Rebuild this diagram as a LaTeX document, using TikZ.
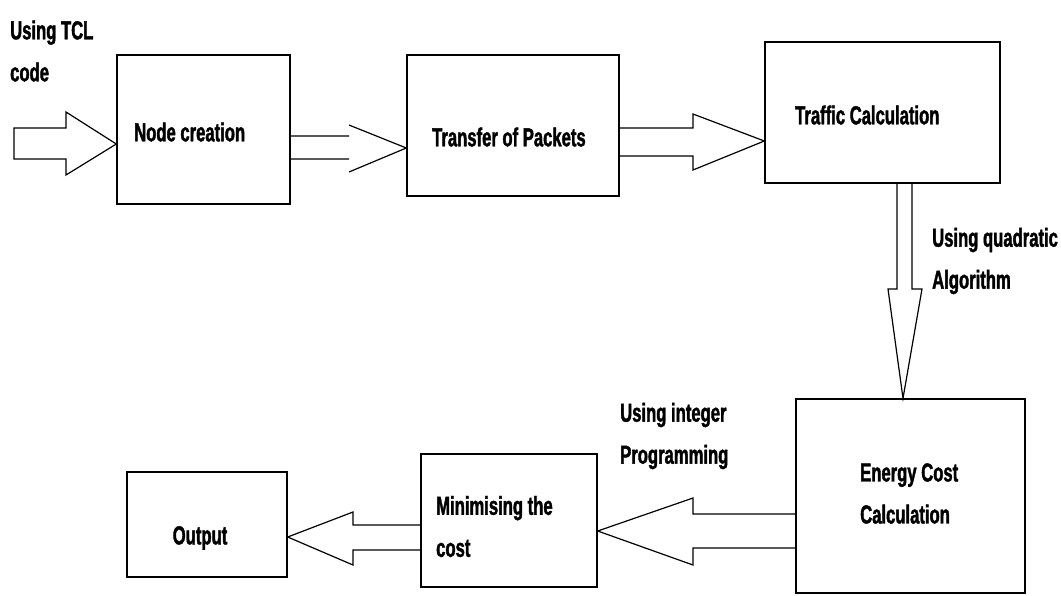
\documentclass[tikz,border=0pt]{standalone}
\usepackage{fontspec}
\newfontfamily\lblfont{Liberation Sans}[FakeStretch=0.64, FakeBold=1.5]
\usetikzlibrary{calc}
\begin{document}
\begin{tikzpicture}[x=1pt,y=-1pt,
  box/.style={draw, line width=1.4pt, inner sep=0pt},
  barrow/.style={draw, line width=1.2pt, line join=miter},
  lbl/.style={inner sep=0pt, font=\lblfont\bfseries\fontsize{26}{42}\selectfont,
              align=left, anchor=west}]
\useasboundingbox (0,0) rectangle (1061,595);

% process boxes
\node[box, minimum width=173pt, minimum height=149pt] (nc)  at (203.5,129.5) {};
\node[box, minimum width=212pt, minimum height=141pt] (tp)  at (513,125.5) {};
\node[box, minimum width=235pt, minimum height=141pt] (tc)  at (882.5,112.5) {};
\node[box, minimum width=229pt, minimum height=194pt] (ec)  at (910.5,496) {};
\node[box, minimum width=176pt, minimum height=133pt] (mc)  at (509,520.5) {};
\node[box, minimum width=160pt, minimum height=105pt] (out) at (207,524.5) {};

% box texts
\node[lbl] (t-nc) at (134,132) {Node creation};
\node[lbl] (t-tp) at (432,137) {Transfer of Packets};
\node[lbl] (t-tc) at (795,115) {Traffic Calculation};
\node[lbl] (t-ec) at (860,493.5) {Energy Cost\\Calculation};
\node[lbl] (t-mc) at (436,526.5) {Minimising the\\cost};
\node[lbl, anchor=center] (t-out) at (200,538) {Output};

% arrow labels
\node[lbl] (t-tcl) at (10,51) {Using TCL\\code};
\node[lbl] (t-qa)  at (932,261) {Using quadratic\\Algorithm};
\node[lbl] (t-ip)  at (620,436) {Using integer\\Programming};

% input arrow
\coordinate (src) at (14,143.5);
\draw[barrow] ($(src)+(0,-15.5)$) -- (66,128) -- (66,112) -- (nc.west |- 0,144)
  -- (66,175) -- (66,159) -- ($(src)+(0,15.5)$) -- cycle;

% node creation -> transfer of packets
\draw[barrow] (nc.east |- 0,136) -- (349,136) (nc.east |- 0,159) -- (349,159)
  (349,125) -- (tp.west |- 0,148) -- (349,172);

% transfer of packets -> traffic calculation
\draw[barrow] (tp.east |- 0,128) -- (693,128) -- (693,114) -- (tc.west |- 0,141)
  -- (693,170) -- (693,156) -- (tp.east |- 0,156);

% traffic calculation -> energy cost calculation
\draw[barrow] (tc.south -| 897,0) -- (897,289) -- (888,289) -- (ec.north -| 903,0)
  -- (922,289) -- (912,289) -- (tc.south -| 912,0);

% energy cost calculation -> minimising the cost
\draw[barrow] (ec.west |- 0,514) -- (693,514) -- (693,498) -- (mc.east |- 0,531)
  -- (693,565) -- (693,548) -- (ec.west |- 0,548);

% minimising the cost -> output
\draw[barrow] (mc.west |- 0,525) -- (353,525) -- (353,512) -- (out.east |- 0,537)
  -- (353,565) -- (353,550) -- (mc.west |- 0,550);
\end{tikzpicture}
\end{document}
